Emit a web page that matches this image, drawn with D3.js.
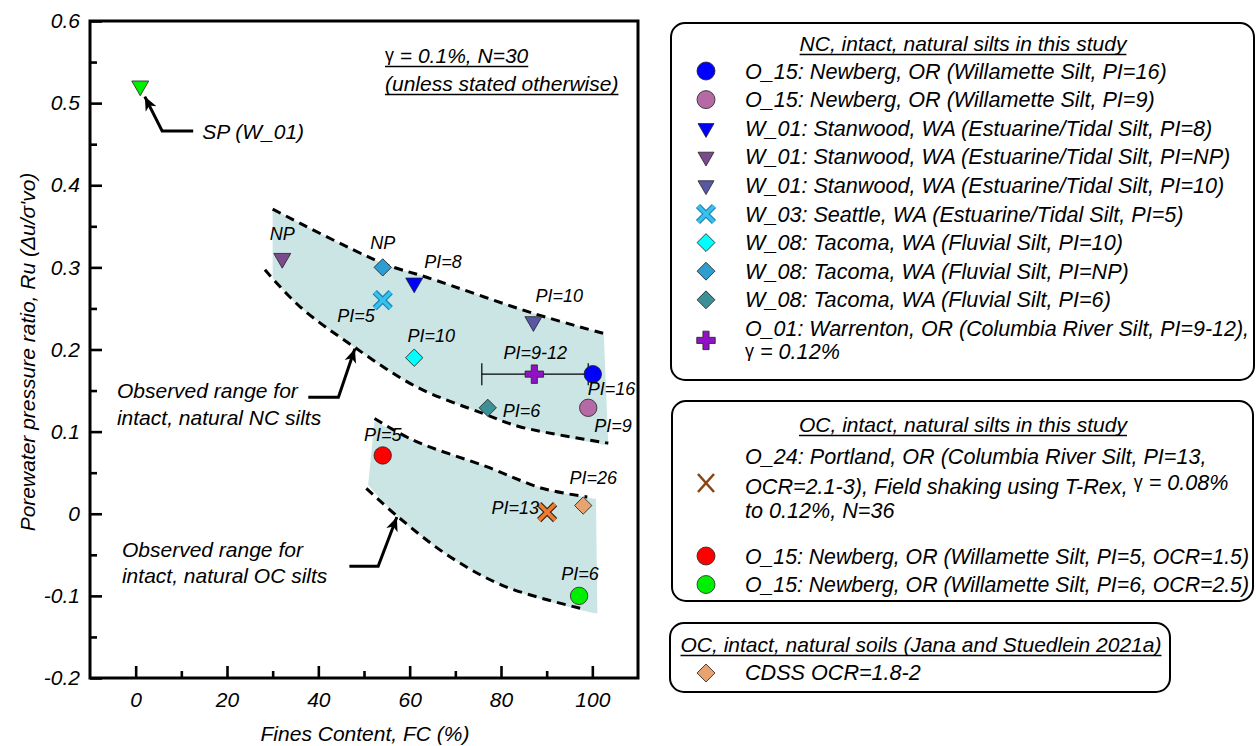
<!DOCTYPE html>
<html>
<head>
<meta charset="utf-8">
<script src="https://cdn.jsdelivr.net/npm/d3@7"></script>
<style>
  body { margin: 0; background: #fff; }
  svg text { font-family: "Liberation Sans", Arial, sans-serif; font-style: italic; fill: #000; }
</style>
</head>
<body>
<svg id="chart" width="1256" height="746"></svg>
<script>
// ---- values ----
const xTicks = [0, 20, 40, 60, 80, 100];
const xMinor = [10, 30, 50, 70, 90];
const yTicks = [-0.2, -0.1, 0, 0.1, 0.2, 0.3, 0.4, 0.5, 0.6];
const yMinor = [-0.15, -0.05, 0.05, 0.15, 0.25, 0.35, 0.45, 0.55];

// NC silts (this study)
const ncPoints = [
  { id: "o15_16", fc: 100.1, ru: 0.170, pi: "PI=16", name: "O_15: Newberg, OR (Willamette Silt, PI=16)" },
  { id: "o15_9",  fc: 99.1,  ru: 0.129, pi: "PI=9",  name: "O_15: Newberg, OR (Willamette Silt, PI=9)" },
  { id: "w01_8",  fc: 61.0,  ru: 0.281, pi: "PI=8",  name: "W_01: Stanwood, WA (Estuarine/Tidal Silt, PI=8)" },
  { id: "w01_np", fc: 32.1,  ru: 0.311, pi: "NP",    name: "W_01: Stanwood, WA (Estuarine/Tidal Silt, PI=NP)" },
  { id: "w01_10", fc: 87.1,  ru: 0.234, pi: "PI=10", name: "W_01: Stanwood, WA (Estuarine/Tidal Silt, PI=10)" },
  { id: "w03_5",  fc: 54.1,  ru: 0.260, pi: "PI=5",  name: "W_03: Seattle, WA (Estuarine/Tidal Silt, PI=5)" },
  { id: "w08_10", fc: 61.0,  ru: 0.190, pi: "PI=10", name: "W_08: Tacoma, WA (Fluvial Silt, PI=10)" },
  { id: "w08_np", fc: 54.1,  ru: 0.300, pi: "NP",    name: "W_08: Tacoma, WA (Fluvial Silt, PI=NP)" },
  { id: "w08_6",  fc: 77.1,  ru: 0.129, pi: "PI=6",  name: "W_08: Tacoma, WA (Fluvial Silt, PI=6)" },
  { id: "o01",    fc: 87.3,  ru: 0.170, pi: "PI=9-12", name: "O_01: Warrenton, OR (Columbia River Silt, PI=9-12)," }
];
const o01Range = [75.8, 99.1];   // FC error bar of O_01

// OC silts (this study)
const ocPoints = [
  { id: "o24",   fc: 90.1, ru: 0.002,  pi: "PI=13" },
  { id: "o15_5", fc: 54.1, ru: 0.071,  pi: "PI=5", name: "O_15: Newberg, OR (Willamette Silt, PI=5, OCR=1.5)" },
  { id: "o15_6", fc: 97.1, ru: -0.100, pi: "PI=6", name: "O_15: Newberg, OR (Willamette Silt, PI=6, OCR=2.5)" }
];
const o24Text = ["O_24: Portland, OR (Columbia River Silt, PI=13,",
                 "OCR=2.1-3), Field shaking using T-Rex,", "to 0.12%, N=36"];

// OC soils, Jana and Stuedlein 2021a
const cdssPoints = [{ id: "cdss", fc: 98.0, ru: 0.010, pi: "PI=26", name: "CDSS OCR=1.8-2" }];

// SP sample
const spPoints = [{ id: "sp", fc: 1.0, ru: 0.521 }];

// observed ranges (dashed bounds and shading) [FC, Ru]
const ncUpper = [[30, 0.371], [54.1, 0.305], [63.7, 0.288], [87.1, 0.244], [102.5, 0.2195]];
const ncLower = [[28.3, 0.297], [36, 0.252], [47.6, 0.204], [61.5, 0.1545], [76.1, 0.122], [84.1, 0.106], [103.5, 0.086]];
const ncShadeBottom = [[103.5, 0.083], [84.1, 0.106], [76.1, 0.122], [61.5, 0.1545], [47.6, 0.204], [36, 0.252], [30, 0.287]];
const ocUpper = [[52.3, 0.116], [60.8, 0.0895], [77, 0.057], [89.2, 0.0307], [98.9, 0.0205]];
const ocLower = [[50.5, 0.031], [57.5, -0.004], [68.9, -0.0526], [81.1, -0.089], [97.7, -0.1155]];
const ocShadeTop = [[52.3, 0.113], [60.8, 0.0895], [77, 0.057], [89.2, 0.0307], [100.8, 0.018]];
const ocShadeBottom = [[101.1, -0.1216], [97.7, -0.1175], [81.1, -0.089], [68.9, -0.0526], [57.5, -0.004], [50.9, 0.035]];

// annotation arrows [FC, Ru]
const spArrow = [[12.6, 0.466], [5.8, 0.466], [2.0, 0.508]];
const ncArrow = [[37.8, 0.142], [44.4, 0.142], [48.0, 0.201]];
const ocArrow = [[46.8, -0.064], [53.1, -0.064], [57.2, -0.004]];

// ---- styles ----
const markStyle = {
  o15_16: { shape: "circle", fill: "#0000ff" },
  o15_9:  { shape: "circle", fill: "#b56aa6" },
  w01_8:  { shape: "tri", fill: "#0000ff" },
  w01_np: { shape: "tri", fill: "#7b4a8c" },
  w01_10: { shape: "tri", fill: "#5a56a6" },
  w03_5:  { shape: "x", fill: "#36c2ef", edge: "#1f7fb0" },
  w08_10: { shape: "diamond", fill: "#00ffff" },
  w08_np: { shape: "diamond", fill: "#2e9dd0" },
  w08_6:  { shape: "diamond", fill: "#3c9198" },
  o01:    { shape: "plus", fill: "#9012c4" },
  o24:    { shape: "x", fill: "#ef7b30", edge: "#3b2412" },
  o15_5:  { shape: "circle", fill: "#ff0000" },
  o15_6:  { shape: "circle", fill: "#00ee00" },
  cdss:   { shape: "diamond", fill: "#e9a36e" },
  sp:     { shape: "tri", fill: "#00ee00" }
};
// label offsets from the marker: [dx, dy, anchor]
const labelPos = {
  o15_16: [-5, 15, "start"], o15_9: [6, 18, "start"], w01_8: [10, -21, "start"],
  w01_np: [0, -24, "middle"], w01_10: [2, -26, "start"], w03_5: [-8, 16, "end"],
  w08_10: [17, -22, "middle"], w08_np: [0, -24, "middle"], w08_6: [15, 3, "start"],
  o01: [1, -21, "middle"], o24: [-8, -4, "end"], o15_5: [0, -20, "middle"],
  o15_6: [1, -22, "middle"], cdss: [10, -28, "middle"]
};
const shadeColor = "#cae5e4";
const legendFont = 21.6;

const svg = d3.select("#chart");
const x = d3.scaleLinear().domain([-10, 110]).range([90, 638]);
const y = d3.scaleLinear().domain([-0.2, 0.6]).range([678, 21]);

const curve = d3.line().x(d => x(d[0])).y(d => y(d[1])).curve(d3.curveCatmullRom.alpha(0.5));
const straight = d3.line().x(d => x(d[0])).y(d => y(d[1]));

function band(top, bottom) {
  return curve(top) + "L" + curve(bottom).slice(1) + "Z";
}

// arrowhead
svg.append("defs").append("marker")
  .attr("id", "head").attr("markerUnits", "userSpaceOnUse")
  .attr("markerWidth", 16).attr("markerHeight", 14)
  .attr("refX", 14).attr("refY", 7).attr("orient", "auto")
  .append("path").attr("d", "M0,1 L14,7 L0,13 L4,7 Z").attr("fill", "#000");

// shaded ranges
svg.append("path").attr("d", band(ncUpper, ncShadeBottom)).attr("fill", shadeColor);
svg.append("path").attr("d", band(ocShadeTop, ocShadeBottom)).attr("fill", shadeColor);

[ncUpper, ncLower, ocUpper, ocLower].forEach(b => {
  svg.append("path").attr("d", curve(b)).attr("fill", "none")
    .attr("stroke", "#000").attr("stroke-width", 3).attr("stroke-dasharray", "9,6");
});

// error bar on O_01
const eb = svg.append("g").attr("stroke", "#000").attr("stroke-width", 1.2);
eb.append("line").attr("x1", x(o01Range[0])).attr("x2", x(o01Range[1]))
  .attr("y1", y(0.17)).attr("y2", y(0.17));
o01Range.forEach(v => eb.append("line").attr("x1", x(v)).attr("x2", x(v))
  .attr("y1", y(0.17) - 11).attr("y2", y(0.17) + 11));

function drawMarker(g, key, cx, cy, legend) {
  const st = markStyle[key];
  const m = g.append("g").attr("transform", `translate(${cx},${cy})`);
  if (st.shape === "circle") {
    m.append("circle").attr("r", legend ? 9 : 8.7).attr("fill", st.fill)
      .attr("stroke", "#222").attr("stroke-width", 0.8);
  } else if (st.shape === "tri") {
    m.append("path").attr("d", d3.symbol(d3.symbolTriangle, legend ? 110 : 125)())
      .attr("transform", "rotate(180)").attr("fill", st.fill)
      .attr("stroke", "#222").attr("stroke-width", 0.8);
  } else if (st.shape === "diamond") {
    m.append("path").attr("d", d3.symbol(d3.symbolSquare, legend ? 160 : 150)())
      .attr("transform", "rotate(45)").attr("fill", st.fill)
      .attr("stroke", "#222").attr("stroke-width", 0.8);
  } else if (st.shape === "plus") {
    m.append("path").attr("d", d3.symbol(d3.symbolCross, 190)())
      .attr("fill", st.fill).attr("stroke", "#222").attr("stroke-width", 0.8);
  } else if (st.shape === "x") {
    const d = "M-8,-8L8,8M-8,8L8,-8";
    if (legend && key === "o24") {
      m.append("path").attr("d", "M-8,-9L8,9M-8,9L8,-9").attr("stroke", "#8b4513")
        .attr("stroke-width", 2.6);
    } else {
      m.append("path").attr("d", d).attr("stroke", st.edge).attr("stroke-width", 6);
      m.append("path").attr("d", d).attr("stroke", st.fill).attr("stroke-width", 3.6);
    }
  }
}

const plot = svg.append("g");
const allPoints = ncPoints.concat(ocPoints, cdssPoints, spPoints);
allPoints.forEach(p => drawMarker(plot, p.id, x(p.fc), y(p.ru), false));

// PI labels
allPoints.filter(p => p.pi).forEach(p => {
  const lp = labelPos[p.id];
  plot.append("text").attr("x", x(p.fc) + lp[0]).attr("y", y(p.ru) + lp[1])
    .attr("text-anchor", lp[2]).attr("dominant-baseline", "central")
    .attr("font-size", 18).text(p.pi);
});

// annotation arrows and text
[spArrow, ncArrow, ocArrow].forEach(a => {
  svg.append("path").attr("d", straight(a)).attr("fill", "none")
    .attr("stroke", "#000").attr("stroke-width", 3).attr("marker-end", "url(#head)");
});
svg.append("text").attr("x", x(spArrow[0][0]) + 9).attr("y", y(spArrow[0][1]))
  .attr("dominant-baseline", "central").attr("font-size", 21).text("SP (W_01)");

function twoLines(lines, fx, ru1, ru2) {
  lines.forEach((t, i) => svg.append("text").attr("x", x(fx)).attr("y", y(i ? ru2 : ru1))
    .attr("dominant-baseline", "central").attr("font-size", 21).text(t));
}
twoLines(["Observed range for", "intact, natural NC silts"], -4.1, 0.150, 0.117);
twoLines(["Observed range for", "intact, natural OC silts"], -3.0, -0.043, -0.075);

// note at top of plot
function underlined(g, tx, ty, size, build) {
  const t = g.append("text").attr("x", tx).attr("y", ty)
    .attr("dominant-baseline", "central").attr("font-size", size);
  build(t);
  const w = t.node().getComputedTextLength();
  const anchor = t.attr("text-anchor");
  const x0 = anchor === "middle" ? tx - w / 2 : tx;
  g.append("line").attr("x1", x0).attr("x2", x0 + w).attr("y1", ty + 11.5).attr("y2", ty + 11.5)
    .attr("stroke", "#000").attr("stroke-width", 1.5);
  return t;
}
underlined(svg, x(54.6), 55, 21, t => {
  t.append("tspan").attr("font-style", "normal").attr("font-size", 18).text("γ");
  t.append("tspan").text(" = 0.1%, N=30");
});
underlined(svg, x(54.6), 83, 21, t => t.text("(unless stated otherwise)"));

// frame and axes
svg.append("rect").attr("x", x(-10)).attr("y", y(0.6))
  .attr("width", x(110) - x(-10)).attr("height", y(-0.2) - y(0.6))
  .attr("fill", "none").attr("stroke", "#000").attr("stroke-width", 3);

function styleAxis(g) {
  g.select(".domain").remove();
  g.selectAll(".tick line").attr("stroke", "#000").attr("stroke-width", 2.6);
  g.selectAll("text").attr("font-size", 21).attr("fill", "#000")
    .style("font-family", "'Liberation Sans', Arial, sans-serif").style("font-style", "italic");
}
svg.append("g").attr("transform", `translate(0,${y(-0.2)})`)
  .call(d3.axisBottom(x).tickValues(xTicks).tickSize(-12).tickPadding(14).tickFormat(d => String(d)))
  .call(styleAxis);
svg.append("g").attr("transform", `translate(0,${y(-0.2)})`)
  .call(d3.axisBottom(x).tickValues(xMinor).tickSize(-7).tickFormat(""))
  .call(styleAxis);
svg.append("g").attr("transform", `translate(${x(-10)},0)`)
  .call(d3.axisLeft(y).tickValues(yTicks).tickSize(-12).tickPadding(10).tickFormat(d => String(d)))
  .call(styleAxis);
svg.append("g").attr("transform", `translate(${x(-10)},0)`)
  .call(d3.axisLeft(y).tickValues(yMinor).tickSize(-7).tickFormat(""))
  .call(styleAxis);

svg.append("text").attr("x", 365).attr("y", 733).attr("text-anchor", "middle")
  .attr("dominant-baseline", "central").attr("font-size", 21).text("Fines Content, FC (%)");
svg.append("text").attr("transform", "translate(27,352) rotate(-90)").attr("text-anchor", "middle")
  .attr("dominant-baseline", "central").attr("font-size", 21)
  .text("Porewater pressure ratio, Ru (Δu/σ'vo)");

// ---- legends ----
const lg = svg.append("g");
function box(x0, y0, x1, y1) {
  lg.append("rect").attr("x", x0).attr("y", y0).attr("width", x1 - x0).attr("height", y1 - y0)
    .attr("rx", 14).attr("fill", "#fff").attr("stroke", "#000").attr("stroke-width", 2);
}
const symX = 706, txtX = 745, maxW = 504;
function legendText(tx, ty, s) {
  const t = lg.append("text").attr("x", tx).attr("y", ty).attr("dominant-baseline", "central")
    .attr("font-size", legendFont).text(s);
  // keep long rows inside the box
  if (t.node().getComputedTextLength() > maxW) {
    t.attr("textLength", maxW).attr("lengthAdjust", "spacingAndGlyphs");
  }
  return t;
}

box(671, 23, 1254, 380);
underlined(lg, 963, 43, 21, t => t.attr("text-anchor", "middle").text("NC, intact, natural silts in this study"));
ncPoints.forEach((p, i) => {
  const ry = 71 + i * 28.6;
  drawMarker(lg, p.id, symX, p.id === "o01" ? ry + 12 : ry, true);
  legendText(txtX, ry, p.name);
});
const o01Line2 = lg.append("text").attr("x", txtX).attr("y", 71 + 9 * 28.6 + 23)
  .attr("dominant-baseline", "central").attr("font-size", legendFont);
o01Line2.append("tspan").attr("font-style", "normal").attr("font-size", 18).text("γ");
o01Line2.append("tspan").text(" = 0.12%");

box(672, 401, 1253, 601);
underlined(lg, 963, 424, 21, t => t.attr("text-anchor", "middle").text("OC, intact, natural silts in this study"));
drawMarker(lg, "o24", symX, 483, true);
legendText(txtX, 456, o24Text[0]);
const l2 = lg.append("text").attr("x", txtX).attr("y", 486).attr("dominant-baseline", "central")
  .attr("font-size", legendFont).text(o24Text[1]);
l2.append("tspan").attr("dx", 6).attr("dy", -4).attr("font-style", "normal").attr("font-size", 18).text("γ");
l2.append("tspan").text(" = 0.08%");
legendText(txtX, 510, o24Text[2]);
ocPoints.filter(p => p.name).forEach((p, i) => {
  const ry = 556 + i * 28.5;
  drawMarker(lg, p.id, symX, ry, true);
  legendText(txtX, ry, p.name);
});

box(670, 623, 1170, 692);
underlined(lg, 921, 644, 21, t => t.attr("text-anchor", "middle").text("OC, intact, natural soils (Jana and Stuedlein 2021a)"));
cdssPoints.forEach(p => {
  drawMarker(lg, p.id, symX, 673, true);
  legendText(txtX, 672, p.name);
});
</script>
</body>
</html>
